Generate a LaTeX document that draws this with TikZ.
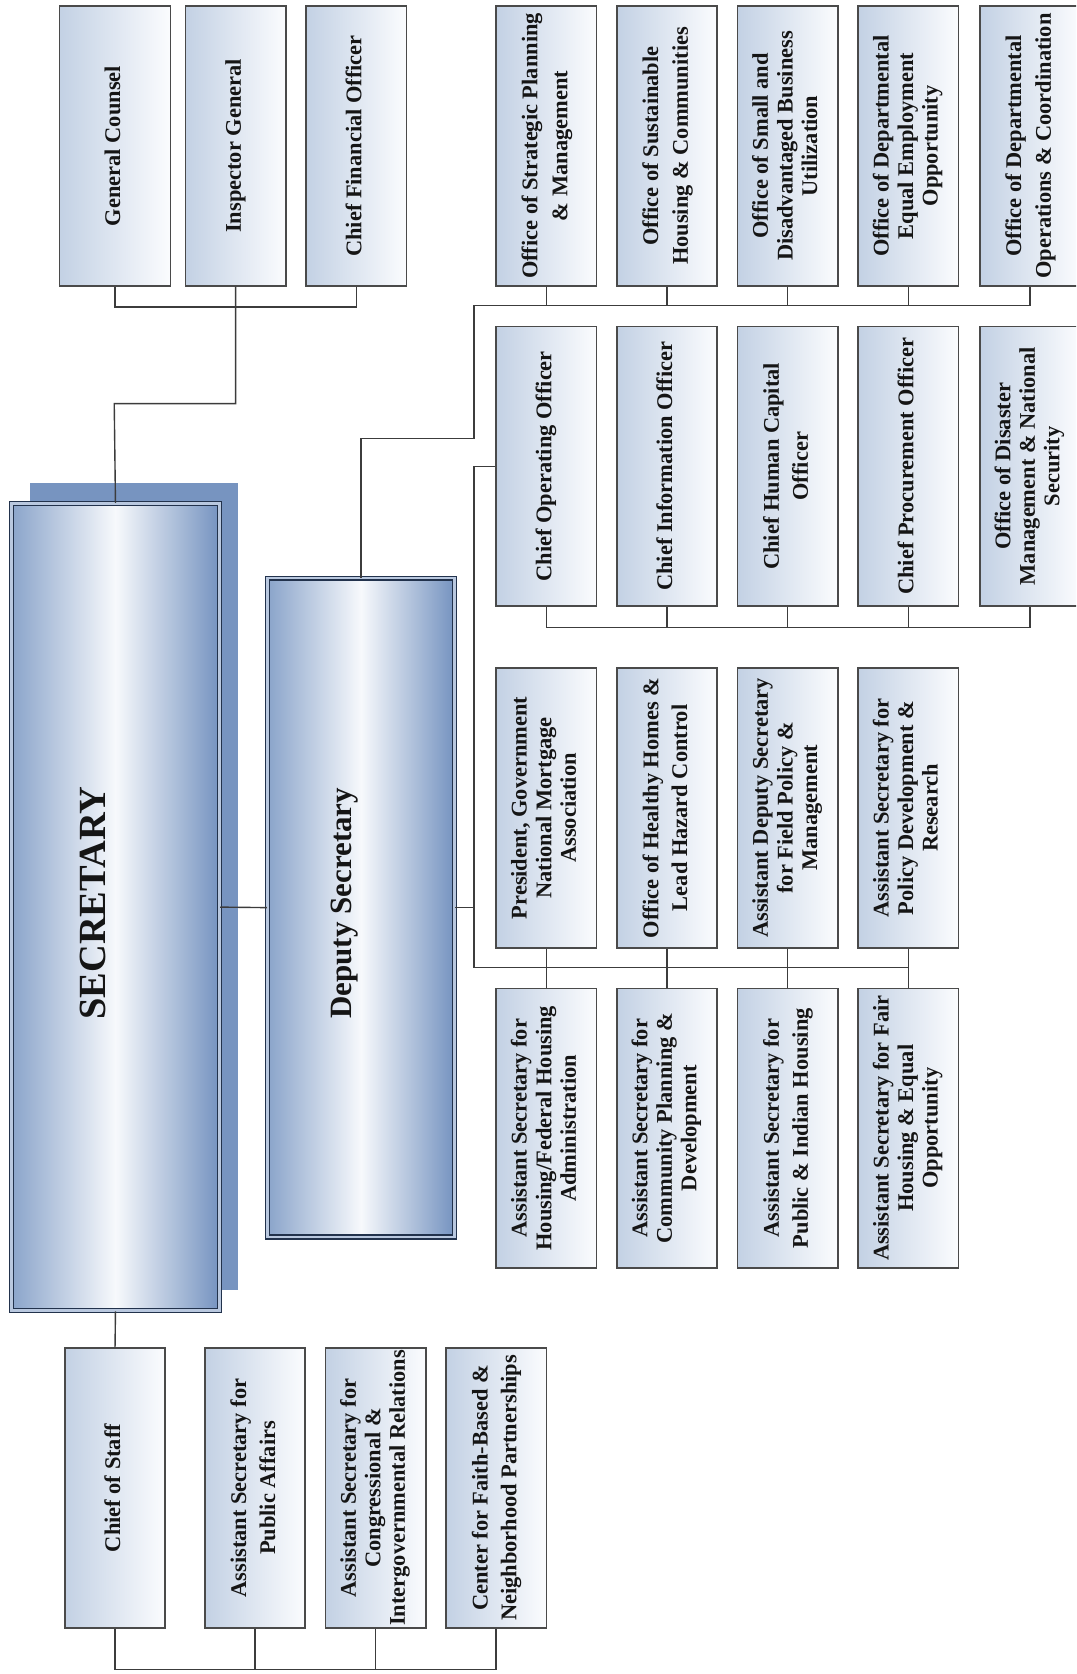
\documentclass[tikz,border=0pt]{standalone}
\usepackage{fontspec}
\setmainfont{Liberation Serif}
\usepackage{graphicx}
\definecolor{boxL}{HTML}{C3D1E4}
\definecolor{boxR}{HTML}{FBFCFE}
\definecolor{bigL}{HTML}{8AA4CA}
\definecolor{bigM}{HTML}{F7F9FC}
\definecolor{bigR}{HTML}{7593C0}
\definecolor{bigE}{HTML}{22324C}
\definecolor{shadowc}{HTML}{7794C0}
\definecolor{linec}{HTML}{3C3C3C}
\definecolor{borderc}{HTML}{4A4A4A}
\definecolor{txt}{HTML}{151515}
\newcommand\rt[2][24]{\rotatebox{90}{\fontsize{21}{#1}\selectfont\bfseries\begin{tabular}{@{}c@{}}#2\end{tabular}}}
\tikzset{
  orgbox/.style={draw=borderc, line width=1.5pt, left color=boxL, right color=boxR,
    minimum width=94pt, minimum height=262pt, inner sep=0pt, anchor=north west, text=txt},
  bigbox/.style={draw=bigE, line width=1.3pt, double=bigL!60!white, double distance=2.2pt,
    left color=bigL, right color=bigR, middle color=bigM, inner sep=0pt, anchor=north west},
  conn/.style={draw=linec, line width=1.3pt},
  bigtext/.style={rotate=90, text=txt, font=\bfseries, inner sep=0pt}
}
\begin{document}
\begin{tikzpicture}[x=1pt,y=-1pt]
\useasboundingbox (0,0) rectangle (1008,1568);
\fill[white] (0,0) rectangle (1008,1568);
\begin{scope}
\clip (0,0) rectangle (1008,1568);
% shadow of secretary
\fill[shadowc] (28,452) rectangle (223,1208);
% big boxes
\node[bigbox, minimum width=195pt, minimum height=756pt] (sec) at (10,471) {};
\node[bigbox, minimum width=175pt, minimum height=617pt] (dep) at (250,541) {};
\node[bigtext, font=\fontsize{36}{40}\selectfont\bfseries] (sectext) at (87,846) {SECRETARY};
\node[bigtext, font=\fontsize{29}{33}\selectfont\bfseries] (deptext) at (323,846) {Deputy Secretary};
% top-left row
\node[orgbox, minimum width=104pt] (gc) at (55,5) {\rt{General Counsel}};
\node[orgbox] (ig) at (173,5) {\rt{Inspector General}};
\node[orgbox] (cfo) at (286,5) {\rt{Chief Financial Officer}};
% bottom-left row
\node[orgbox] (cos) at (60,1262) {\rt{Chief of Staff}};
\node[orgbox] (aspa) at (191,1262) {\rt[27]{Assistant Secretary for\\Public Affairs}};
\node[orgbox] (ascir) at (304,1262) {\rt[23]{Assistant Secretary for\\Congressional \&\\Intergovernmental Relations}};
\node[orgbox] (cfbnp) at (417,1262) {\rt[27]{Center for Faith-Based \&\\Neighborhood Partnerships}};
% row A
\node[orgbox] (a1) at (464,5) {\rt[28]{Office of Strategic Planning\\\& Management}};
\node[orgbox] (a2) at (577,5) {\rt[28]{Office of Sustainable\\Housing \& Communities}};
\node[orgbox] (a3) at (690,5) {\rt[23]{Office of Small and\\Disadvantaged Business\\Utilization}};
\node[orgbox] (a4) at (803,5) {\rt[23]{Office of Departmental\\Equal Employment\\Opportunity}};
\node[orgbox] (a5) at (917,5) {\rt[28]{Office of Departmental\\Operations \& Coordination}};
% row B
\node[orgbox] (b1) at (464,305) {\rt{Chief Operating Officer}};
\node[orgbox] (b2) at (577,305) {\rt{Chief Information Officer}};
\node[orgbox] (b3) at (690,305) {\rt[27]{Chief Human Capital\\Officer}};
\node[orgbox] (b4) at (803,305) {\rt{Chief Procurement Officer}};
\node[orgbox] (b5) at (917,305) {\rt[23]{Office of Disaster\\Management \& National\\Security}};
% row C
\node[orgbox] (c1) at (464,625) {\rt[23]{President, Government\\National Mortgage\\Association}};
\node[orgbox] (c2) at (577,625) {\rt[27]{Office of Healthy Homes \&\\Lead Hazard Control}};
\node[orgbox] (c3) at (690,625) {\rt[23]{Assistant Deputy Secretary\\for Field Policy \&\\Management}};
\node[orgbox] (c4) at (803,625) {\rt[23]{Assistant Secretary for\\Policy Development \&\\Research}};
% row D
\node[orgbox] (d1) at (464,925) {\rt[23]{Assistant Secretary for\\Housing/Federal Housing\\Administration}};
\node[orgbox] (d2) at (577,925) {\rt[23]{Assistant Secretary for\\Community Planning \&\\Development}};
\node[orgbox] (d3) at (690,925) {\rt[27]{Assistant Secretary for\\Public \& Indian Housing}};
\node[orgbox] (d4) at (803,925) {\rt[23]{Assistant Secretary for Fair\\Housing \& Equal\\Opportunity}};
% coordinates for bends
\coordinate (k1) at (107,378);
\coordinate (k2) at (444,411);
\coordinate (abus) at (444,286);
\coordinate (cdbus) at (444,906);
% connectors: top-left
\draw[conn] (gc.south) -- ++(0,19) -| (cfo.south);
\draw[conn] (ig.south) |- (k1) -- (sec.north);
% bottom-left
\draw[conn] (sec.south) -- (cos.north);
\draw[conn] (cos.south) -- ++(0,38) -| (cfbnp.south);
\draw[conn] (aspa.south) -- ++(0,38);
\draw[conn] (ascir.south) -- ++(0,38);
% secretary to deputy
\draw[conn] (sec.east) -- (dep.west);
% deputy up to row A
\draw[conn] (dep.north) |- (k2) -- (abus) -| (a5.south);
\foreach \n in {a1,a2,a3,a4} \draw[conn] (\n.south) -- (\n.south |- abus);
% row B bus
\draw[conn] (b1.south) -- ++(0,19) -| (b5.south);
\foreach \n in {b2,b3,b4} \draw[conn] (\n.south) -- ++(0,19);
% COO and rows C/D
\draw[conn] (b1.west) -| (cdbus) -| (c4.south);
\draw[conn] (dep.east) -- (dep.east -| cdbus);
\foreach \i in {1,2,3,4} \draw[conn] (c\i.south) -- (d\i.north);
\end{scope}
\end{tikzpicture}
\end{document}
